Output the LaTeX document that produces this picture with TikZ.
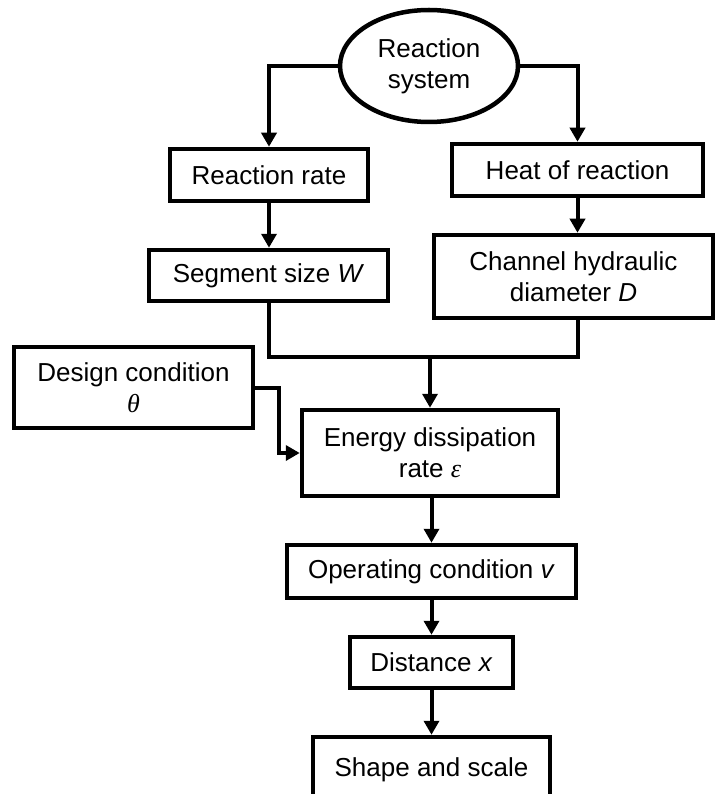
\documentclass[tikz,border=0pt]{standalone}
\usepackage{fontspec}
\setmainfont{Liberation Sans}
\newfontfamily\grkfont{Liberation Serif}
\usetikzlibrary{arrows.meta,shapes.geometric}
\begin{document}
\begin{tikzpicture}[x=1pt,y=-1pt,
  box/.style={draw,line width=4.5pt,align=center,inner sep=0pt,
    font=\fontsize{26}{31}\selectfont},
  conn/.style={line width=4pt,line join=miter},
  arr/.style={conn,-{Triangle[length=14pt,width=15pt]}}]
\useasboundingbox (0,0) rectangle (715,794);
\node[box,ellipse,minimum width=178pt,minimum height=112pt] (sys) at (429,66) {Reaction\\system};
\node[box,minimum width=198pt,minimum height=52pt] (rate) at (269,175) {Reaction rate};
\node[box,minimum width=251pt,minimum height=52pt] (heat) at (577.5,170) {Heat of reaction};
\node[box,minimum width=239pt,minimum height=51pt] (seg) at (268.5,275.5) {Segment size \textit{W}};
\node[box,minimum width=279pt,minimum height=83pt] (chan) at (573.5,276.5) {Channel hydraulic\\diameter \textit{D}};
\node[box,minimum width=239pt,minimum height=81pt] (design) at (133.5,387.5) {Design condition\\{\grkfont\itshape θ}};
\node[box,minimum width=256pt,minimum height=86pt] (energy) at (430,453) {Energy dissipation\\rate {\grkfont\itshape ε}};
\node[box,minimum width=289pt,minimum height=53pt] (op) at (431.5,571.5) {Operating condition \textit{v}};
\node[box,minimum width=163pt,minimum height=51pt] (dist) at (431.5,662.5) {Distance \textit{x}};
\node[box,minimum width=237pt,minimum height=66pt] (shape) at (431.5,770) {Shape and scale};
\coordinate (m) at (430,357);
\draw[arr] (sys.west) -| (rate.north);
\draw[arr] (sys.east) -| (heat.north);
\draw[arr] (rate.south) -- (rate.south |- seg.north);
\draw[arr] (heat.south) -- (heat.south |- chan.north);
\draw[conn] (seg.south) -- (seg.south |- m) -- (heat.south |- m) -- (heat.south |- chan.south);
\draw[arr] (m) -- (energy.north);
\draw[arr] (design.east) -- ++(24,0) |- (energy.west);
\draw[arr] (op.north |- energy.south) -- (op.north);
\draw[arr] (op.south) -- (dist.north);
\draw[arr] (dist.south) -- (shape.north);
\end{tikzpicture}
\end{document}
